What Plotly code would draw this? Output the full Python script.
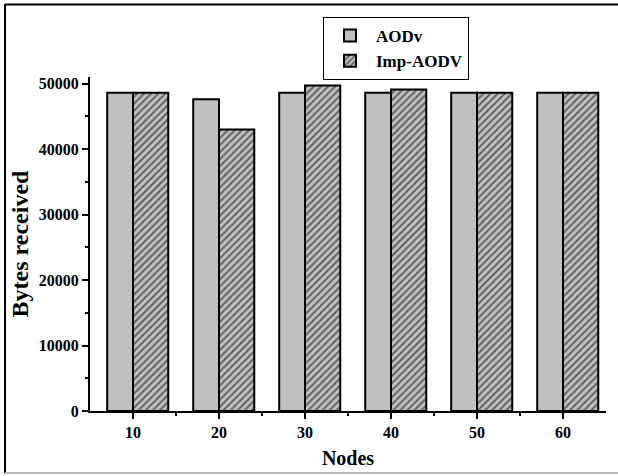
import plotly.graph_objects as go

nodes = [10, 20, 30, 40, 50, 60]
aodv = [48600, 47600, 48600, 48600, 48600, 48600]
imp_aodv = [48600, 43000, 49700, 49100, 48600, 48600]
x_ticks = [10, 20, 30, 40, 50, 60]
y_ticks = [0, 10000, 20000, 30000, 40000, 50000]

FONT = "Liberation Serif"
W, H = 618, 476
L, R, T, B = 90, 12, 77, 65

fig = go.Figure()
fig.add_trace(go.Bar(
    x=nodes, y=aodv, name="AODv", width=3.0, offset=-3.0,
    marker=dict(color="#c0c0c0", line=dict(color="black", width=2)),
))
fig.add_trace(go.Bar(
    x=nodes, y=imp_aodv, name="Imp-AODV", width=4.1, offset=0,
    marker=dict(color="#c0c0c0", line=dict(color="black", width=2),
                pattern=dict(shape="/", fgcolor="black", size=5, solidity=0.4,
                             fillmode="overlay")),
))

pw = W - L - R
ph = H - T - B
def px_x(x):
    return (x - L) / pw
def px_y(y):
    return (H - B - y) / ph

fig.update_layout(
    width=W, height=H,
    margin=dict(l=L, r=R, t=T, b=B, autoexpand=False),
    paper_bgcolor="white", plot_bgcolor="white",
    barmode="overlay",
    font=dict(family=FONT, color="black", size=16, weight="bold"),
    showlegend=True,
    legend=dict(
        x=px_x(323), y=px_y(17), xanchor="left", yanchor="top",
        bordercolor="black", borderwidth=1, bgcolor="white",
        font=dict(family=FONT, size=17, weight="bold"),
        tracegroupgap=0, itemsizing="constant", itemwidth=42,
    ),
    xaxis=dict(
        range=[5, 65], tickvals=x_ticks, ticktext=[str(v) for v in x_ticks],
        showgrid=False, zeroline=False,
        showline=True, linecolor="black", linewidth=2,
        ticks="outside", ticklen=6, tickwidth=2, tickcolor="black",
        minor=dict(tickvals=[15, 25, 35, 45, 55], ticks="outside", ticklen=3,
                   tickwidth=2, tickcolor="black"),
        tickfont=dict(family=FONT, size=16, weight="bold"),
        title=dict(text="Nodes", font=dict(family=FONT, size=20, weight="bold"),
                   standoff=11),
        automargin=False,
    ),
    yaxis=dict(
        range=[0, 51000], tickvals=y_ticks, ticktext=[str(v) for v in y_ticks],
        showgrid=False, zeroline=False,
        showline=True, linecolor="black", linewidth=2,
        ticks="outside", ticklen=6, tickwidth=2, tickcolor="black",
        minor=dict(tickvals=[5000, 15000, 25000, 35000, 45000], ticks="outside",
                   ticklen=3, tickwidth=2, tickcolor="black"),
        tickfont=dict(family=FONT, size=16, weight="bold"),
        title=dict(text="Bytes received", font=dict(family=FONT, size=24, weight="bold"),
                   standoff=3),
        automargin=False,
    ),
    shapes=[
        dict(type="line", xref="paper", yref="paper",
             x0=px_x(5), x1=px_x(5), y0=px_y(4), y1=px_y(473),
             line=dict(color="black", width=2)),
        dict(type="line", xref="paper", yref="paper",
             x0=px_x(5), x1=px_x(620), y0=px_y(4.5), y1=px_y(4.5),
             line=dict(color="black", width=2)),
        dict(type="line", xref="paper", yref="paper",
             x0=px_x(5), x1=px_x(620), y0=px_y(473), y1=px_y(473),
             line=dict(color="#bbbbbb", width=2)),
    ],
)

fig.write_html("out.html")
